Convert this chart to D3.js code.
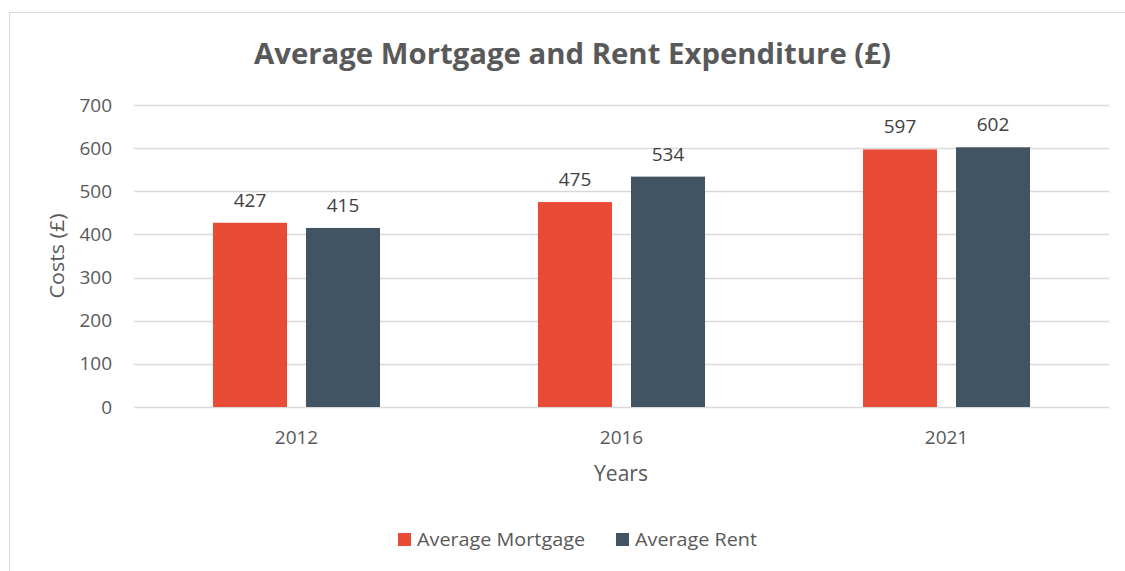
<!DOCTYPE html>
<html>
<head>
<meta charset="utf-8">
<script src="https://cdn.jsdelivr.net/npm/d3@7"></script>
<style>
  html, body { margin: 0; padding: 0; background: #fff; }
  svg { display: block; font-family: "Open Sans", sans-serif; }
</style>
</head>
<body>
<svg id="chart" width="1125" height="571"></svg>
<script>
const years = ["2012", "2016", "2021"];
const seriesNames = ["Average Mortgage", "Average Rent"];
const mortgage = [427, 475, 597];
const rent = [415, 534, 602];
const yTicks = [0, 100, 200, 300, 400, 500, 600, 700];
const colors = ["#E84C36", "#415464"];

const svg = d3.select("#chart");
const W = 1125, H = 571;
const plot = { left: 134, right: 1109, top: 105, bottom: 407 };

// chart border
svg.append("rect").attr("x", 9.5).attr("y", 12.5).attr("width", W + 20).attr("height", H + 20)
  .attr("fill", "#fff").attr("stroke", "#d9d9d9").attr("stroke-width", 1);

const y = d3.scaleLinear().domain([0, 700]).range([plot.bottom, plot.top]);
const x0 = d3.scaleBand().domain(years).range([plot.left, plot.right]).padding(0);
const x1 = d3.scaleBand().domain(seriesNames).range([0, x0.bandwidth()])
  .paddingInner(0.204).paddingOuter(0.849);

// gridlines
svg.append("g").selectAll("line").data(yTicks).join("line")
  .attr("x1", plot.left).attr("x2", plot.right)
  .attr("y1", d => Math.round(y(d)) + 0.5).attr("y2", d => Math.round(y(d)) + 0.5)
  .attr("stroke", "#d9d9d9").attr("stroke-width", 1.3);

// y axis labels
const yAxis = d3.axisLeft(y).tickValues(yTicks).tickSize(0).tickPadding(0);
const gy = svg.append("g").attr("transform", `translate(112,0)`).call(yAxis);
gy.select(".domain").remove();
gy.selectAll("text").attr("font-size", 19).attr("fill", "#595959")
  .attr("font-family", "Open Sans, sans-serif");

// x axis labels
const xAxis = d3.axisBottom(x0).tickSize(0).tickPadding(0);
const gx = svg.append("g").attr("transform", `translate(0,${plot.bottom + 23})`).call(xAxis);
gx.select(".domain").remove();
gx.selectAll("text").attr("font-size", 19).attr("fill", "#595959")
  .attr("font-family", "Open Sans, sans-serif");

// bars
const rows = years.map((yr, i) => ({ year: yr, vals: [mortgage[i], rent[i]] }));
const groups = svg.append("g").selectAll("g").data(rows).join("g")
  .attr("transform", d => `translate(${x0(d.year)},0)`);
groups.selectAll("rect").data(d => d.vals.map((v, j) => ({ s: seriesNames[j], v, j })))
  .join("rect")
  .attr("x", d => x1(d.s)).attr("width", x1.bandwidth())
  .attr("y", d => y(d.v)).attr("height", d => y(0) - y(d.v))
  .attr("fill", d => colors[d.j]);
groups.selectAll("text").data(d => d.vals.map((v, j) => ({ s: seriesNames[j], v, j })))
  .join("text")
  .attr("x", d => x1(d.s) + x1.bandwidth() / 2)
  .attr("y", d => y(d.v) - 16)
  .attr("text-anchor", "middle").attr("font-size", 19).attr("fill", "#404040")
  .text(d => d.v);

// title
svg.append("text").attr("x", 572.5).attr("y", 64).attr("text-anchor", "middle")
  .attr("font-size", 29).attr("font-weight", "bold").attr("fill", "#595959")
  .attr("textLength", 637).attr("lengthAdjust", "spacingAndGlyphs")
  .text("Average Mortgage and Rent Expenditure (£)");

// axis titles
svg.append("text").attr("transform", "translate(64,256) rotate(-90)")
  .attr("text-anchor", "middle").attr("font-size", 20).attr("fill", "#595959")
  .attr("textLength", 85).attr("lengthAdjust", "spacingAndGlyphs")
  .text("Costs (£)");
svg.append("text").attr("x", 621).attr("y", 481).attr("text-anchor", "middle")
  .attr("font-size", 21).attr("fill", "#595959")
  .text("Years");

// legend
const legendX = [398, 616];
const legendW = [168, 122];
const lg = svg.append("g").selectAll("g").data(seriesNames).join("g");
lg.append("rect").attr("x", (d, i) => legendX[i]).attr("y", 533).attr("width", 13).attr("height", 13)
  .attr("fill", (d, i) => colors[i]);
lg.append("text").attr("x", (d, i) => legendX[i] + 19).attr("y", 546)
  .attr("font-size", 19).attr("fill", "#595959")
  .attr("textLength", (d, i) => legendW[i]).attr("lengthAdjust", "spacingAndGlyphs")
  .text(d => d);
</script>
</body>
</html>
